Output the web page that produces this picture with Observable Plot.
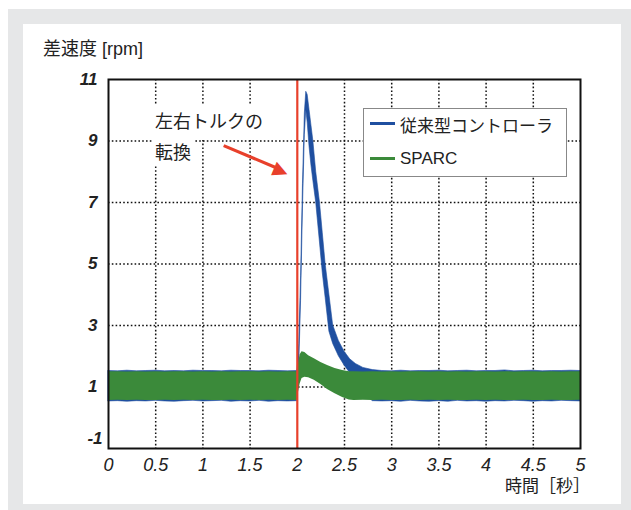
<!DOCTYPE html>
<html><head><meta charset="utf-8">
<script src="https://cdn.jsdelivr.net/npm/d3@7"></script>
<script src="https://cdn.jsdelivr.net/npm/@observablehq/plot@0.6"></script>
<style>
body{margin:0;overflow:hidden;font-family:"Liberation Sans","Noto Sans CJK JP",sans-serif;}
.abs{position:absolute;white-space:nowrap;}
</style></head><body>
<div style="position:relative;width:631px;height:510px;">
<div class="abs" style="left:8px;top:9px;width:623px;height:501px;background:#e6e7e8"></div>
<div class="abs" style="left:23px;top:24px;width:598px;height:480px;background:#fff"></div>
<div class="abs" id="chart" style="left:0;top:0"></div>
<div class="abs" id="title" style="left:43px;top:38px;font-size:18px;line-height:22px;color:#222"></div>
<div class="abs" id="xlabel" style="left:505px;top:476px;font-size:17px;line-height:22px;color:#222"></div>
<div class="abs" id="annot1" style="left:153px;top:104px;font-size:18px;line-height:36px;height:36px;padding:0 3px 0 2px;background:#fff;color:#222"></div>
<div class="abs" id="annot2" style="left:153px;top:140px;font-size:18px;line-height:26px;height:26px;padding:0 3px 0 2px;background:#fff;color:#222"></div>
<div class="abs" style="left:363px;top:108px;width:202px;height:67px;border:1px solid #888;background:#fff"></div>
<div class="abs" id="leg1line" style="left:370px;top:122px;width:25px;height:3px"></div>
<div class="abs" id="leg1" style="left:400px;top:115px;font-size:17px;line-height:24px;color:#222"></div>
<div class="abs" id="leg2line" style="left:370px;top:157px;width:25px;height:3px"></div>
<div class="abs" id="leg2" style="left:400px;top:147px;font-size:17px;line-height:24px;color:#222"></div>
</div>
<script>
// ---- texts ----
const titleText = "差速度 [rpm]";
const xLabelText = "時間［秒］";
const annotLines = ["左右トルクの", "転換"];
const seriesNames = ["従来型コントローラ", "SPARC"];
const seriesColors = ["#1f4fa0", "#3b8a3a"];
const switchColor = "#e8402b";

// ---- ticks ----
const xTicks = [0, 0.5, 1, 1.5, 2, 2.5, 3, 3.5, 4, 4.5, 5];
const yTicks = [-1, 1, 3, 5, 7, 9, 11];
const xGrid = [0.5, 1, 1.5, 2.5, 3, 3.5, 4, 4.5];
const yGrid = [1, 3, 5, 7, 9];
const switchTime = [2];

// ---- conventional controller (envelope of noisy signal) ----
const blueT = [0,0.1,0.2,0.3,0.4,0.5,0.6,0.7,0.8,0.9,1.0,1.1,1.2,1.3,1.4,1.5,1.6,1.7,1.8,1.9,2.0,
  2.01,2.02,2.04,2.06,2.08,2.095,2.11,2.13,2.15,2.17,2.20,2.24,2.27,2.30,2.34,2.38,2.44,2.50,2.56,2.62,2.70,2.80,
  2.9,3.0,3.1,3.2,3.3,3.4,3.5,3.6,3.7,3.8,3.9,4.0,4.1,4.2,4.3,4.4,4.5,4.6,4.7,4.8,4.9,5.0];
const blueLo = [0.53,0.54,0.52,0.54,0.53,0.55,0.53,0.52,0.54,0.55,0.53,0.54,0.55,0.52,0.54,0.53,0.55,0.52,0.54,0.53,0.54,
  0.9,1.6,3.8,6.8,9.2,10.0,9.6,8.8,8.2,7.7,7.0,5.7,4.7,3.9,2.8,2.4,2.0,1.7,1.45,1.2,0.8,0.54,
  0.53,0.54,0.52,0.55,0.53,0.52,0.54,0.52,0.55,0.53,0.54,0.52,0.54,0.53,0.55,0.54,0.52,0.54,0.53,0.55,0.54,0.53];
const blueHi = [1.52,1.51,1.53,1.51,1.52,1.53,1.51,1.52,1.51,1.53,1.52,1.52,1.51,1.53,1.52,1.52,1.51,1.53,1.52,1.51,1.52,
  1.8,2.4,4.6,7.6,9.9,10.6,10.5,10.0,9.5,9.0,8.0,7.0,6.0,5.0,4.0,3.0,2.5,2.15,1.9,1.75,1.62,1.55,
  1.52,1.51,1.53,1.51,1.52,1.52,1.53,1.51,1.52,1.53,1.51,1.52,1.52,1.54,1.51,1.52,1.53,1.51,1.52,1.52,1.53,1.52];

// ---- SPARC ----
const greenT = [0,0.1,0.2,0.3,0.4,0.5,0.6,0.7,0.8,0.9,1.0,1.1,1.2,1.3,1.4,1.5,1.6,1.7,1.8,1.9,2.0,
  2.01,2.03,2.05,2.08,2.12,2.18,2.25,2.32,2.40,2.48,2.55,
  2.6,2.7,2.8,2.9,3.0,3.1,3.2,3.3,3.4,3.5,3.6,3.7,3.8,3.9,4.0,4.1,4.2,4.3,4.4,4.5,4.6,4.7,4.8,4.9,5.0];
const greenLo = [0.56,0.57,0.56,0.57,0.56,0.56,0.57,0.56,0.57,0.56,0.57,0.56,0.56,0.57,0.56,0.57,0.56,0.57,0.56,0.57,0.56,
  0.8,1.1,1.28,1.32,1.3,1.22,1.08,0.92,0.78,0.66,0.58,
  0.56,0.57,0.56,0.57,0.56,0.56,0.57,0.56,0.57,0.56,0.57,0.56,0.56,0.57,0.56,0.57,0.56,0.56,0.57,0.56,0.56,0.57,0.56,0.56,0.57];
const greenHi = [1.5,1.5,1.49,1.5,1.49,1.5,1.49,1.5,1.5,1.49,1.5,1.49,1.5,1.49,1.5,1.5,1.49,1.5,1.49,1.5,1.5,
  1.7,2.05,2.15,2.12,2.02,1.92,1.8,1.7,1.6,1.54,1.5,
  1.5,1.49,1.5,1.49,1.5,1.49,1.5,1.5,1.49,1.5,1.49,1.5,1.49,1.5,1.5,1.49,1.5,1.49,1.5,1.5,1.49,1.5,1.49,1.5,1.5];

// ---- annotation arrow (data coords) ----
const arrowTail = [1.22, 8.85];
const arrowBase = [1.77, 8.14];
const arrowHead = [1.83, 8.06];

const blue = blueT.map((t, i) => ({t, lo: blueLo[i], hi: blueHi[i]}));
const green = greenT.map((t, i) => ({t, lo: greenLo[i], hi: greenHi[i]}));

const gridStyle = {stroke: "#111", strokeWidth: 1.5, strokeDasharray: "1.6,2.2"};
const fontFam = "Liberation Sans, Arial, sans-serif";

const chart = Plot.plot({
  width: 631, height: 510,
  marginLeft: 108, marginRight: 51, marginTop: 79, marginBottom: 62,
  style: {background: "transparent", fontFamily: fontFam},
  x: {domain: [0, 5], axis: null},
  y: {domain: [-1, 11], axis: null},
  marks: [
    Plot.ruleX(xGrid, gridStyle),
    Plot.ruleY(yGrid, gridStyle),
    Plot.areaY(blue, {x: "t", y1: "lo", y2: "hi", fill: seriesColors[0], stroke: seriesColors[0], strokeWidth: 0.6}),
    Plot.areaY(green, {x: "t", y1: "lo", y2: "hi", fill: seriesColors[1]}),
    Plot.ruleX(switchTime, {stroke: switchColor, strokeWidth: 2.2}),
    Plot.frame({stroke: "#111", strokeWidth: 2}),
    Plot.link([0], {x1: () => arrowTail[0], y1: () => arrowTail[1], x2: () => arrowBase[0], y2: () => arrowBase[1], stroke: switchColor, strokeWidth: 3.2}),
    Plot.text([0], {x: () => arrowHead[0], y: () => arrowHead[1], text: () => "▶", rotate: 23, fill: switchColor, fontSize: 19, textAnchor: "middle", lineAnchor: "middle"}),
    Plot.text(xTicks, {x: d => d, y: -1, dy: 17, text: d => String(d), fontStyle: "italic", fontSize: 18, fill: "#222", lineAnchor: "middle"}),
    Plot.text(yTicks.filter(d => d !== -1), {x: 0, y: d => d, dx: -11, text: d => String(d), textAnchor: "end", fontWeight: "bold", fontStyle: "italic", fontSize: 17, fill: "#222", lineAnchor: "middle"}),
    Plot.text(yTicks.filter(d => d === -1), {x: 0, y: d => d, dx: -6, dy: -10, text: d => String(d), textAnchor: "end", fontWeight: "bold", fontStyle: "italic", fontSize: 17, fill: "#222", lineAnchor: "middle"})
  ]
});
document.getElementById("chart").appendChild(chart);
document.getElementById("title").textContent = titleText;
document.getElementById("xlabel").textContent = xLabelText;
document.getElementById("annot1").textContent = annotLines[0];
document.getElementById("annot2").textContent = annotLines[1];
document.getElementById("leg1").textContent = seriesNames[0];
document.getElementById("leg2").textContent = seriesNames[1];
document.getElementById("leg1line").style.background = seriesColors[0];
document.getElementById("leg2line").style.background = seriesColors[1];
</script>
</body></html>
